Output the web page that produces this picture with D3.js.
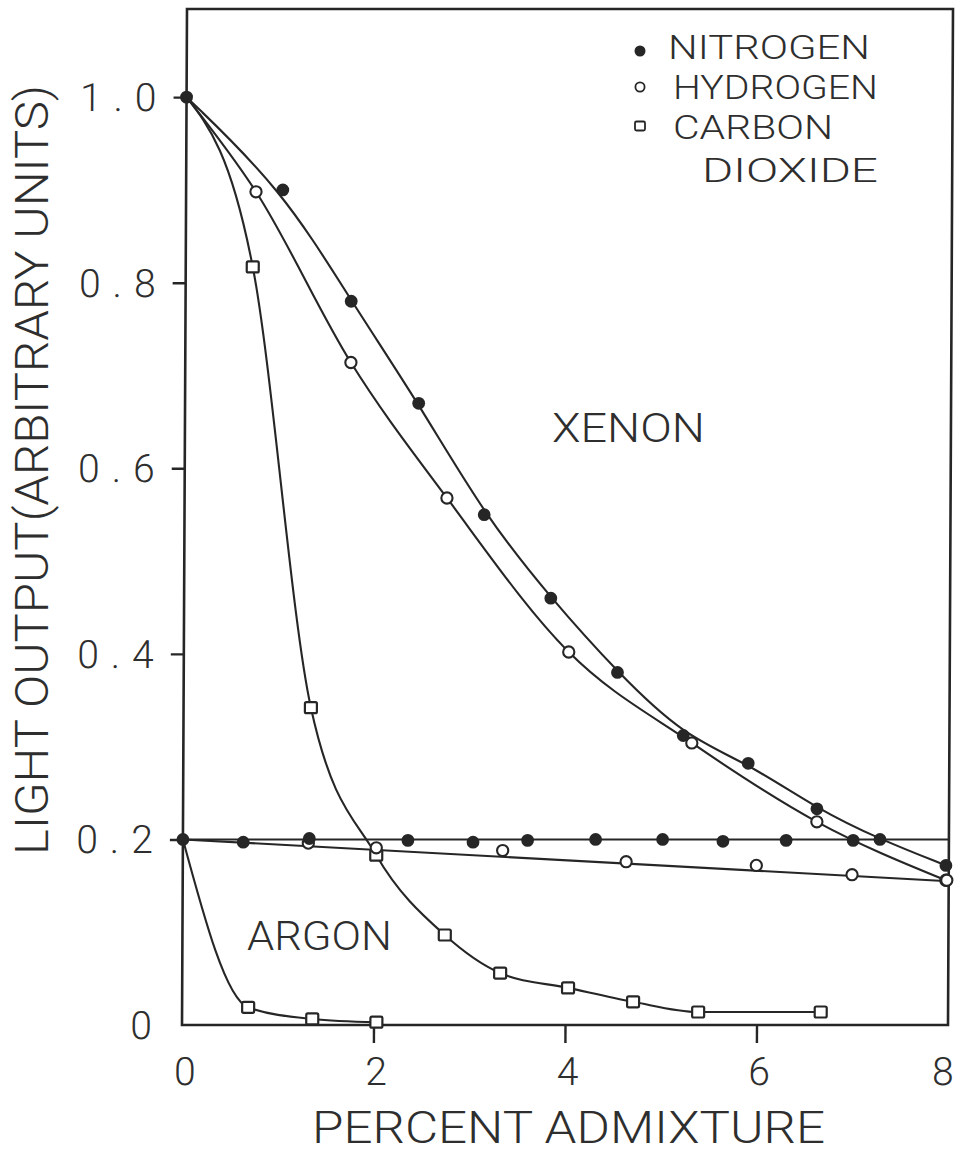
<!DOCTYPE html>
<html>
<head>
<meta charset="utf-8">
<script src="https://cdn.jsdelivr.net/npm/d3@7"></script>
<style>
  html, body { margin: 0; padding: 0; background: #fff; }
  svg { display: block; }
  text { font-family: Roboto, "Liberation Sans", sans-serif; font-weight: 300; fill: #2e2e2e; }
</style>
</head>
<body>
<svg id="chart" width="955" height="1154"></svg>
<script>
// Light output versus percent admixture, xenon and argon with three admixture gases.
// Each point is [percent admixture, light output].

// Xenon
const xenonNitrogen = [[0, 1.0], [1.01, 0.90], [1.73, 0.78], [2.44, 0.67], [3.13, 0.55], [3.83, 0.46],
  [4.53, 0.38], [5.22, 0.312], [5.90, 0.282], [6.62, 0.233], [7.28, 0.200], [7.97, 0.172]];
const xenonHydrogen = [[0, 1.0], [0.73, 0.898], [1.73, 0.714], [2.74, 0.568], [4.02, 0.402],
  [5.31, 0.304], [6.62, 0.219], [7.97, 0.156]];
const xenonCarbonDioxide = [[0, 1.0], [0.70, 0.817], [1.33, 0.342], [2.02, 0.183], [2.74, 0.097],
  [3.32, 0.056], [4.03, 0.040], [4.71, 0.025], [5.39, 0.014], [6.67, 0.014]];

// Argon
const argonNitrogen = [[0, 0.2], [0.63, 0.197], [1.32, 0.201], [2.35, 0.199], [3.03, 0.197], [3.60, 0.199],
  [4.31, 0.200], [5.01, 0.200], [5.64, 0.198], [6.30, 0.199], [7.00, 0.199]];
const argonHydrogen = [[0, 0.2], [1.31, 0.196], [2.02, 0.191], [3.34, 0.188], [4.63, 0.176],
  [5.99, 0.172], [6.99, 0.162], [7.98, 0.156]];
const argonCarbonDioxide = [[0, 0.2], [0.69, 0.019], [1.36, 0.0065], [2.03, 0.003]];

// Straight fits drawn through the argon nitrogen and hydrogen points
const argonNitrogenFit = [[0, 0.2], [8, 0.2]];
const argonHydrogenFit = [[0, 0.2], [8, 0.155]];

// Axes
const xTicks = [0, 2, 4, 6, 8];
const xTickMarks = [2, 4, 6];
const yTicks = [0, 0.2, 0.4, 0.6, 0.8, 1.0];
const yTickLabels = ["0", "0.2", "0.4", "0.6", "0.8", "1.0"];
const xTitle = "PERCENT ADMIXTURE";
const yTitle = "LIGHT OUTPUT(ARBITRARY UNITS)";
const legendNames = ["NITROGEN", "HYDROGEN", "CARBON", "DIOXIDE"];
const legendShapes = ["filled", "open", "square", null];

const ink = "#262626";
const svg = d3.select("#chart");

const x = d3.scaleLinear().domain([0, 8]).range([182, 948]);
const y = d3.scaleLinear().domain([0, 1.095]).range([1025, 9]);

// The ruled frame leans a little to the right towards the top
const lean = 5 / 1016;
const plot = svg.append("g")
  .attr("transform", `matrix(1,0,${-lean},1,${lean * 1025},0)`);

// Frame
plot.append("rect")
  .attr("x", x(0)).attr("y", y(1.095))
  .attr("width", x(8) - x(0)).attr("height", y(0) - y(1.095))
  .attr("fill", "none").attr("stroke", ink).attr("stroke-width", 2.6);

// Y ticks (outward, to the left) and labels
const yAxis = d3.axisLeft(y).tickValues(yTicks.filter(v => v > 0)).tickSize(13).tickFormat("");
plot.append("g").attr("transform", `translate(${x(0)},0)`).call(yAxis)
  .call(g => g.select(".domain").remove())
  .call(g => g.selectAll(".tick line").attr("stroke", ink).attr("stroke-width", 2.4));

plot.append("g").selectAll("text").data(yTicks).join("text")
  .attr("x", 164)
  .attr("y", d => y(d) + 14)
  .attr("text-anchor", "end")
  .attr("font-size", 39)
  .attr("letter-spacing", 12)
  .text((d, i) => yTickLabels[i]);

// X ticks (downward) and labels
const xAxis = d3.axisBottom(x).tickValues(xTickMarks).tickSize(18).tickFormat("");
plot.append("g").attr("transform", `translate(0,${y(0)})`).call(xAxis)
  .call(g => g.select(".domain").remove())
  .call(g => g.selectAll(".tick line").attr("stroke", ink).attr("stroke-width", 2.4));

plot.append("g").selectAll("text").data(xTicks).join("text")
  .attr("x", d => d === 8 ? 954 : x(d) + 3)
  .attr("y", 1085)
  .attr("text-anchor", d => d === 8 ? "end" : "middle")
  .attr("font-size", 39)
  .text(d => d);

// Curves
const basis = d3.line().x(d => x(d[0])).y(d => y(d[1])).curve(d3.curveBasis);
const smooth = d3.line().x(d => x(d[0])).y(d => y(d[1])).curve(d3.curveMonotoneX);
const straight = d3.line().x(d => x(d[0])).y(d => y(d[1]));

const curves = [
  { data: xenonNitrogen, gen: basis },
  { data: xenonHydrogen, gen: smooth },
  { data: xenonCarbonDioxide, gen: smooth },
  { data: argonCarbonDioxide, gen: smooth },
  { data: argonNitrogenFit, gen: straight },
  { data: argonHydrogenFit, gen: straight }
];
plot.append("g").selectAll("path").data(curves).join("path")
  .attr("d", c => c.gen(c.data))
  .attr("fill", "none").attr("stroke", ink).attr("stroke-width", 2.1);

// Markers: squares, then open circles, then filled circles on top.
// Shared starting points at zero admixture carry only the filled circle.
const squares = xenonCarbonDioxide.slice(1).concat(argonCarbonDioxide.slice(1));
const openCircles = xenonHydrogen.slice(1).concat(argonHydrogen.slice(1));
const filledCircles = xenonNitrogen.concat(argonNitrogen);

plot.append("g").selectAll("rect").data(squares).join("rect")
  .attr("x", d => x(d[0]) - 6).attr("y", d => y(d[1]) - 5.5)
  .attr("width", 12).attr("height", 11).attr("rx", 1.5)
  .attr("fill", "#fff").attr("stroke", ink).attr("stroke-width", 2.2);

plot.append("g").selectAll("circle").data(openCircles).join("circle")
  .attr("cx", d => x(d[0])).attr("cy", d => y(d[1])).attr("r", 5.6)
  .attr("fill", "#fff").attr("stroke", ink).attr("stroke-width", 2.1);

plot.append("g").selectAll("circle").data(filledCircles).join("circle")
  .attr("cx", d => x(d[0])).attr("cy", d => y(d[1])).attr("r", 6.4)
  .attr("fill", ink);

// Curve family labels
svg.append("text").attr("x", 552).attr("y", 442).attr("font-size", 40)
  .attr("textLength", 153).attr("lengthAdjust", "spacingAndGlyphs").text("XENON");
svg.append("text").attr("x", 247).attr("y", 950).attr("font-size", 40)
  .attr("textLength", 145).attr("lengthAdjust", "spacingAndGlyphs").text("ARGON");

// Legend
const legendX = [668, 673, 673, 702];
const legendBase = [59, 99, 139, 182];
const legendLen = [202, 205, 160, 176];
const markY = [51, 87, 126];
const legend = svg.append("g");
legend.selectAll("text").data(legendNames).join("text")
  .attr("x", (d, i) => legendX[i]).attr("y", (d, i) => legendBase[i])
  .attr("font-size", 34)
  .attr("textLength", (d, i) => legendLen[i]).attr("lengthAdjust", "spacingAndGlyphs")
  .text(d => d);
legendShapes.forEach((s, i) => {
  if (s === "filled") {
    legend.append("circle").attr("cx", 640).attr("cy", markY[i]).attr("r", 5.5).attr("fill", ink);
  } else if (s === "open") {
    legend.append("circle").attr("cx", 640).attr("cy", markY[i]).attr("r", 4.6)
      .attr("fill", "#fff").attr("stroke", ink).attr("stroke-width", 1.8);
  } else if (s === "square") {
    legend.append("rect").attr("x", 635).attr("y", markY[i] - 4.5).attr("width", 10).attr("height", 9)
      .attr("rx", 1.5).attr("fill", "#fff").attr("stroke", ink).attr("stroke-width", 1.8);
  }
});

// Axis titles
svg.append("text").attr("x", 312).attr("y", 1143).attr("font-size", 44)
  .attr("textLength", 513).attr("lengthAdjust", "spacingAndGlyphs").text(xTitle);
svg.append("text")
  .attr("transform", "translate(48,855) rotate(-90)")
  .attr("font-size", 46)
  .attr("textLength", 770).attr("lengthAdjust", "spacingAndGlyphs")
  .text(yTitle);
</script>
</body>
</html>
